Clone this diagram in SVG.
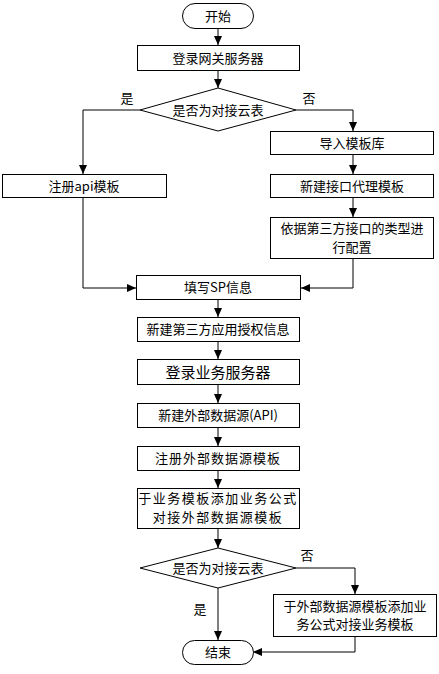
<svg xmlns="http://www.w3.org/2000/svg" width="439" height="674" viewBox="0 0 439 674">
<style>
.b{fill:#fff;stroke:#000;stroke-width:1}
.t{font-family:"Noto Sans CJK SC","Liberation Sans",sans-serif;font-size:13px;fill:#000;text-anchor:middle}
.l{fill:none;stroke:#000;stroke-width:1}
</style>
<defs>
<marker id="a" markerWidth="10" markerHeight="10" refX="9" refY="5" orient="auto" markerUnits="userSpaceOnUse">
<path d="M0,1 L9,5 L0,9 Z" fill="#000"/>
</marker>
</defs>
<rect width="439" height="674" fill="#fff"/>
<g id="connectors">
<path class="l" d="M218,28 V45" marker-end="url(#a)"/>
<path class="l" d="M218,70 V88" marker-end="url(#a)"/>
<path class="l" d="M140,110 H83 V174" marker-end="url(#a)"/>
<path class="l" d="M296,110 H353 V131" marker-end="url(#a)"/>
<path class="l" d="M353,155 V174" marker-end="url(#a)"/>
<path class="l" d="M353,197 V217" marker-end="url(#a)"/>
<path class="l" d="M83,197 V288 H136" marker-end="url(#a)"/>
<path class="l" d="M353,258 V288 H301" marker-end="url(#a)"/>
<path class="l" d="M218,300 V317" marker-end="url(#a)"/>
<path class="l" d="M218,342 V359" marker-end="url(#a)"/>
<path class="l" d="M218,385 V403" marker-end="url(#a)"/>
<path class="l" d="M218,428 V446" marker-end="url(#a)"/>
<path class="l" d="M218,471 V488" marker-end="url(#a)"/>
<path class="l" d="M218,529 V548" marker-end="url(#a)"/>
<path class="l" d="M218,588 V640" marker-end="url(#a)"/>
<path class="l" d="M296,568 H355 V594" marker-end="url(#a)"/>
<path class="l" d="M355,637 V652 H253" marker-end="url(#a)"/>
<text class="t" x="127" y="103">是</text>
<text class="t" x="309" y="103">否</text>
<text class="t" x="307" y="560">否</text>
<text class="t" x="200" y="614">是</text>
</g>
<g id="start"><rect class="b" x="182.5" y="3.5" width="71" height="25" rx="12.5"/><text class="t" x="218" y="21">开始</text></g>
<g id="login-gw"><rect class="b" x="137.5" y="45.5" width="162" height="25"/><text class="t" x="218" y="62.5">登录网关服务器</text></g>
<g id="dec1"><path class="b" d="M218,88 L296,110 L218,131 L140,110 Z"/><text class="t" x="218" y="114.5">是否为对接云表</text></g>
<g id="reg-api"><rect class="b" x="2.5" y="174.5" width="164" height="23"/><text class="t" x="84" y="190.5">注册api模板</text></g>
<g id="import"><rect class="b" x="270.5" y="131.5" width="163" height="23"/><text class="t" x="352" y="147.5">导入模板库</text></g>
<g id="proxy"><rect class="b" x="270.5" y="174.5" width="163" height="23"/><text class="t" x="352" y="190.5">新建接口代理模板</text></g>
<g id="config"><rect class="b" x="270.5" y="217.5" width="163" height="41"/><text class="t" x="352" y="232.5">依据第三方接口的类型进</text><text class="t" x="352" y="251.5">行配置</text></g>
<g id="sp"><rect class="b" x="136.5" y="275.5" width="164" height="24"/><text class="t" x="218" y="292">填写SP信息</text></g>
<g id="auth"><rect class="b" x="137.5" y="317.5" width="162" height="24"/><text class="t" x="218" y="334">新建第三方应用授权信息</text></g>
<g id="login-biz"><rect class="b" x="137.5" y="359.5" width="162" height="25"/><text class="t" x="218" y="377.5" style="font-size:15px">登录业务服务器</text></g>
<g id="ext-src"><rect class="b" x="137.5" y="403.5" width="162" height="24"/><text class="t" x="218" y="420">新建外部数据源(API)</text></g>
<g id="reg-ext"><rect class="b" x="137.5" y="446.5" width="162" height="24"/><text class="t" x="218" y="463" style="letter-spacing:1px">注册外部数据源模板</text></g>
<g id="formula"><rect class="b" x="137.5" y="488.5" width="162" height="40"/><text class="t" x="218" y="503" style="letter-spacing:1.5px">于业务模板添加业务公式</text><text class="t" x="218" y="522" style="letter-spacing:1.5px">对接外部数据源模板</text></g>
<g id="dec2"><path class="b" d="M218,548 L296,568 L218,588 L140,568 Z"/><text class="t" x="218" y="572.5">是否为对接云表</text></g>
<g id="ext-formula"><rect class="b" x="273.5" y="594.5" width="163" height="42"/><text class="t" x="355" y="610.5">于外部数据源模板添加业</text><text class="t" x="355" y="629">务公式对接业务模板</text></g>
<g id="end"><rect class="b" x="182.5" y="640.5" width="71" height="24" rx="12"/><text class="t" x="218" y="657">结束</text></g>
</svg>
